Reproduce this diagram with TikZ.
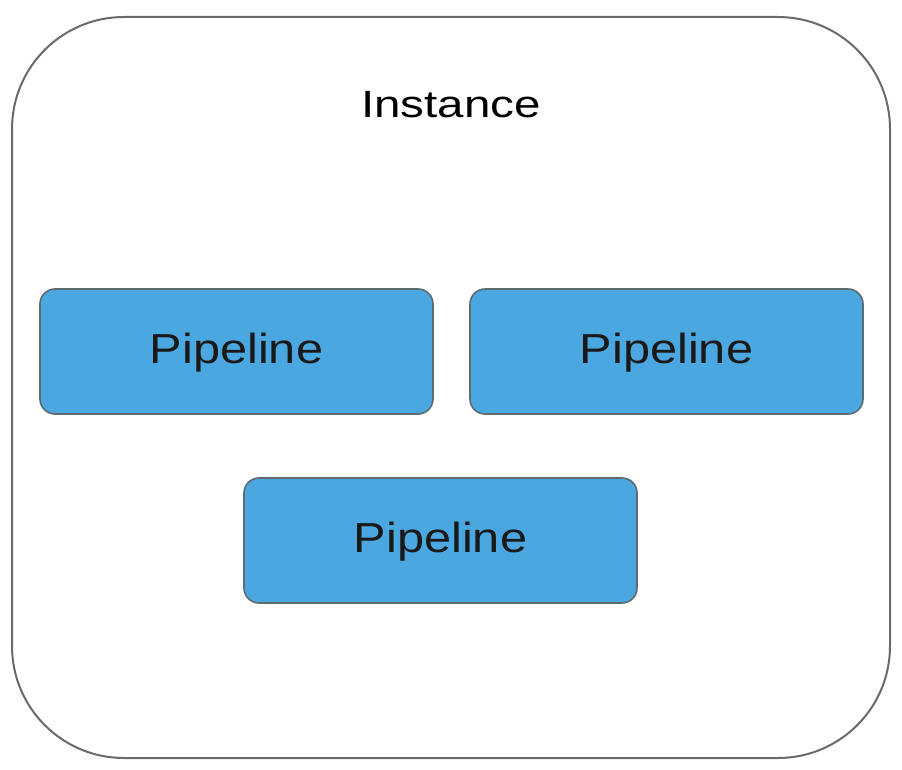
\documentclass[tikz,border=0pt]{standalone}
\usepackage{fontspec}
\setmainfont{Liberation Sans}
\definecolor{pipeblue}{HTML}{4AA7E0}
\definecolor{pipeedge}{HTML}{5F6B73}
\definecolor{outeredge}{HTML}{6A6A6A}
\begin{document}
\begin{tikzpicture}[x=1pt,y=-1pt,
  outerbox/.style={draw=outeredge,line width=2pt,rounded corners=112pt,fill=white},
  pipebox/.style={draw=pipeedge,line width=1.6pt,rounded corners=15pt,fill=pipeblue},
  pipetext/.style={anchor=base,inner sep=0pt,font=\fontsize{42}{48}\selectfont,xscale=1.16,text=black!90},
  titletext/.style={anchor=base,inner sep=0pt,font=\fontsize{38}{44}\selectfont,xscale=1.25}]
\useasboundingbox (0,0) rectangle (902,770);
\draw[outerbox] (12,17) rectangle (890,758);
\node[titletext] (inst) at (451,118) {Instance};
\draw[pipebox] (40,289) rectangle (433,414);
\draw[pipebox] (470,289) rectangle (863,414);
\draw[pipebox] (244,478) rectangle (637,603);
\node[pipetext] (p1) at (236.5,363) {Pipeline};
\node[pipetext] (p2) at (666.5,363) {Pipeline};
\node[pipetext] (p3) at (440.5,552) {Pipeline};
\end{tikzpicture}
\end{document}
